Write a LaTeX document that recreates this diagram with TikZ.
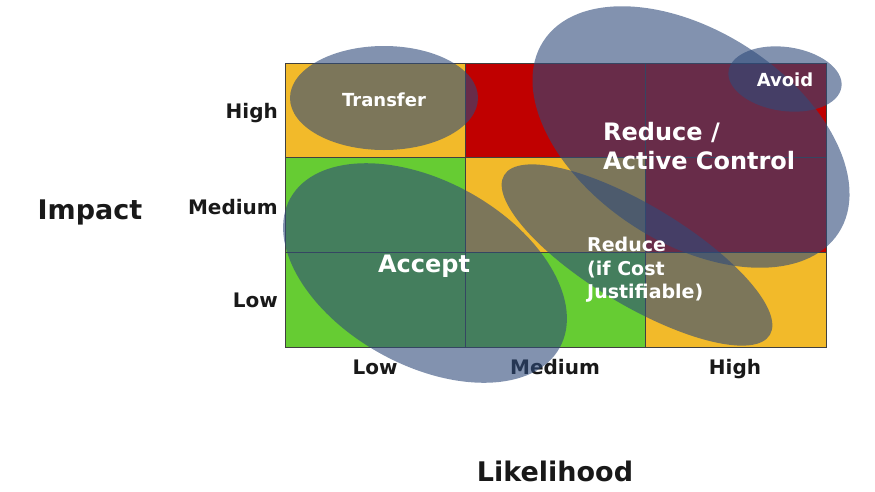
\documentclass[tikz,border=0pt]{standalone}
\usepackage{fontspec}
\setmainfont{DejaVu Sans}
\usetikzlibrary{shapes.geometric}

\definecolor{cellyellow}{RGB}{242,186,42}
\definecolor{cellred}{RGB}{192,0,0}
\definecolor{cellgreen}{RGB}{102,204,51}
\definecolor{zoneblue}{RGB}{46,74,122}

\tikzset{
  zone/.style={ellipse, fill=zoneblue, fill opacity=0.6, inner sep=0pt},
  gridline/.style={draw=black!75, line width=0.9pt},
  axislabel/.style={font=\bfseries\fontsize{20}{24}\selectfont, text=black!90, inner sep=0pt},
  title/.style={font=\bfseries\fontsize{27}{32}\selectfont, text=black!90, inner sep=0pt},
  tag/.style={font=\bfseries\fontsize{18}{22}\selectfont, text=white, inner sep=0pt},
}

\begin{document}
\begin{tikzpicture}[x=1pt, y=-1pt]
\useasboundingbox (0,0) rectangle (875,491);

% the nine cells, top row first
\foreach \c/\r/\clr in {0/0/cellyellow, 1/0/cellred, 2/0/cellred,
                        0/1/cellgreen, 1/1/cellyellow, 2/1/cellred,
                        0/2/cellgreen, 1/2/cellgreen, 2/2/cellyellow}
  \fill[\clr] ({285+180.3*\c},{63+94.7*\r}) rectangle ++(180.3,94.7);

\foreach \c in {1,2}
  \draw[gridline] ({285+180.3*\c},63) -- ++(0,284);
\foreach \r in {1,2}
  \draw[gridline] (285,{63+94.7*\r}) -- ++(541,0);
\draw[gridline] (285,63) rectangle (826,347);

% axes
\node[title, anchor=base] (impact) at (90,219) {Impact};
\node[title, anchor=base] (likelihood) at (555,481) {Likelihood};
\node[axislabel, anchor=base east] (rowhigh) at (278,118) {High};
\node[axislabel, anchor=base east] (rowmedium) at (278,214) {Medium};
\node[axislabel, anchor=base east] (rowlow) at (278,307) {Low};
\node[axislabel, anchor=base] (collow) at (375,374) {Low};
\node[axislabel, anchor=base] (colmedium) at (555,374) {Medium};
\node[axislabel, anchor=base] (colhigh) at (735,374) {High};

% response zones
\node[zone, minimum width=188, minimum height=104] (transferzone) at (384,98) {};
\node[zone, minimum width=352, minimum height=212, rotate=-33] (controlzone) at (691,137) {};
\node[zone, minimum width=114, minimum height=64, rotate=-8] (avoidzone) at (785,79) {};
\node[zone, minimum width=308, minimum height=184, rotate=-29] (acceptzone) at (425,273) {};
\node[zone, minimum width=310, minimum height=100, rotate=-31] (costzone) at (637,255) {};

\node[tag, anchor=base] (transfer) at (384,106) {Transfer};
\node[tag, anchor=base] (avoid) at (785,86) {Avoid};
\node[tag, font=\bfseries\fontsize{24}{29}\selectfont, align=left, anchor=west] (control) at (603,146) {Reduce /\\Active Control};
\node[tag, font=\bfseries\fontsize{24}{29}\selectfont, anchor=base] (accept) at (424,272) {Accept};
\node[tag, font=\bfseries\fontsize{19}{23.5}\selectfont, align=left, anchor=west] (costly) at (587,270) {Reduce\\(if Cost\\Justifiable)};

\end{tikzpicture}
\end{document}
